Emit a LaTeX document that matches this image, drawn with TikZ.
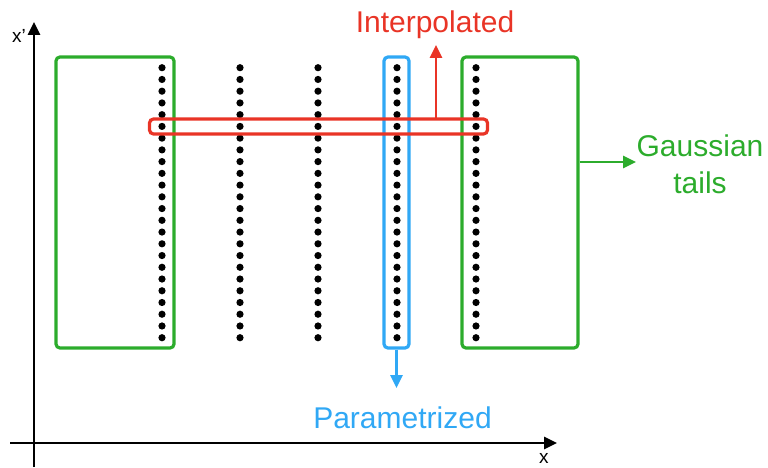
\documentclass[tikz,border=0pt]{standalone}
\usepackage{fontspec}
\setmainfont{Liberation Sans}
\usetikzlibrary{arrows.meta}
\definecolor{gr}{RGB}{44,172,44}
\definecolor{rd}{RGB}{233,52,38}
\definecolor{bl}{RGB}{48,168,245}
\begin{document}
\begin{tikzpicture}[x=1pt,y=-1pt,
  axis/.style={line width=2.6pt,-{Triangle[length=13pt,width=12pt]}},
  gbox/.style={draw=gr,line width=3.2pt,rounded corners=4pt},
  rbox/.style={draw=rd,line width=3.2pt,rounded corners=4pt},
  bbox/.style={draw=bl,line width=3.2pt,rounded corners=4pt},
  dotc/.style={fill=black,circle,inner sep=0pt,minimum size=7.2pt},
  carrow/.style={line width=2.6pt,-{Triangle[length=13pt,width=12pt]}},
  big/.style={font=\fontsize{30}{36}\selectfont,inner sep=0pt,anchor=base},
  small/.style={font=\fontsize{19}{22}\selectfont,inner sep=0pt,anchor=base west}]
\useasboundingbox (0,0) rectangle (768,468);
% axes
\coordinate (yb) at (34,467);
\coordinate (yt) at (34,22);
\coordinate (xl) at (10,443);
\coordinate (xr) at (557,443);
\draw[axis] (yb) -- (yt);
\draw[axis] (xl) -- (xr);
\node[small] (xp) at (12,43) {x’};
\node[small] (xlab) at (539,463) {x};
% dots
\foreach \c/\xx in {1/162,2/240,3/318,4/397,5/476}{
  \foreach \k in {0,...,23}{
    \node[dotc] (d\c-\k) at (\xx,{67.7+\k*11.74}) {};
  }
}
% boxes
\node[gbox,minimum width=118pt,minimum height=291pt] (gl) at (115,202.5) {};
\node[gbox,minimum width=116pt,minimum height=291pt] (gr) at (520,202.5) {};
\node[bbox,minimum width=25pt,minimum height=291pt] (bb) at (396.5,202.5) {};
\node[rbox,minimum width=338pt,minimum height=15pt] (rb) at (318.5,126.5) {};
% labels
\node[big,text=rd] (interp) at (435,33) {Interpolated};
\node[big,text=bl] (param) at (402.5,428) {Parametrized};
\node[big,text=gr] (gauss) at (700,157) {Gaussian};
\node[big,text=gr] (tails) at (700,193) {tails};
% arrows
\coordinate (ra) at (436,45);
\draw[rd,carrow] (436,119) -- (ra);
\coordinate (ba) at (396.5,388);
\draw[bl,carrow] (bb.south) -- (ba);
\coordinate (ga) at (636,162);
\draw[gr,carrow] (gr.east |- ga) -- (ga);
\end{tikzpicture}
\end{document}
